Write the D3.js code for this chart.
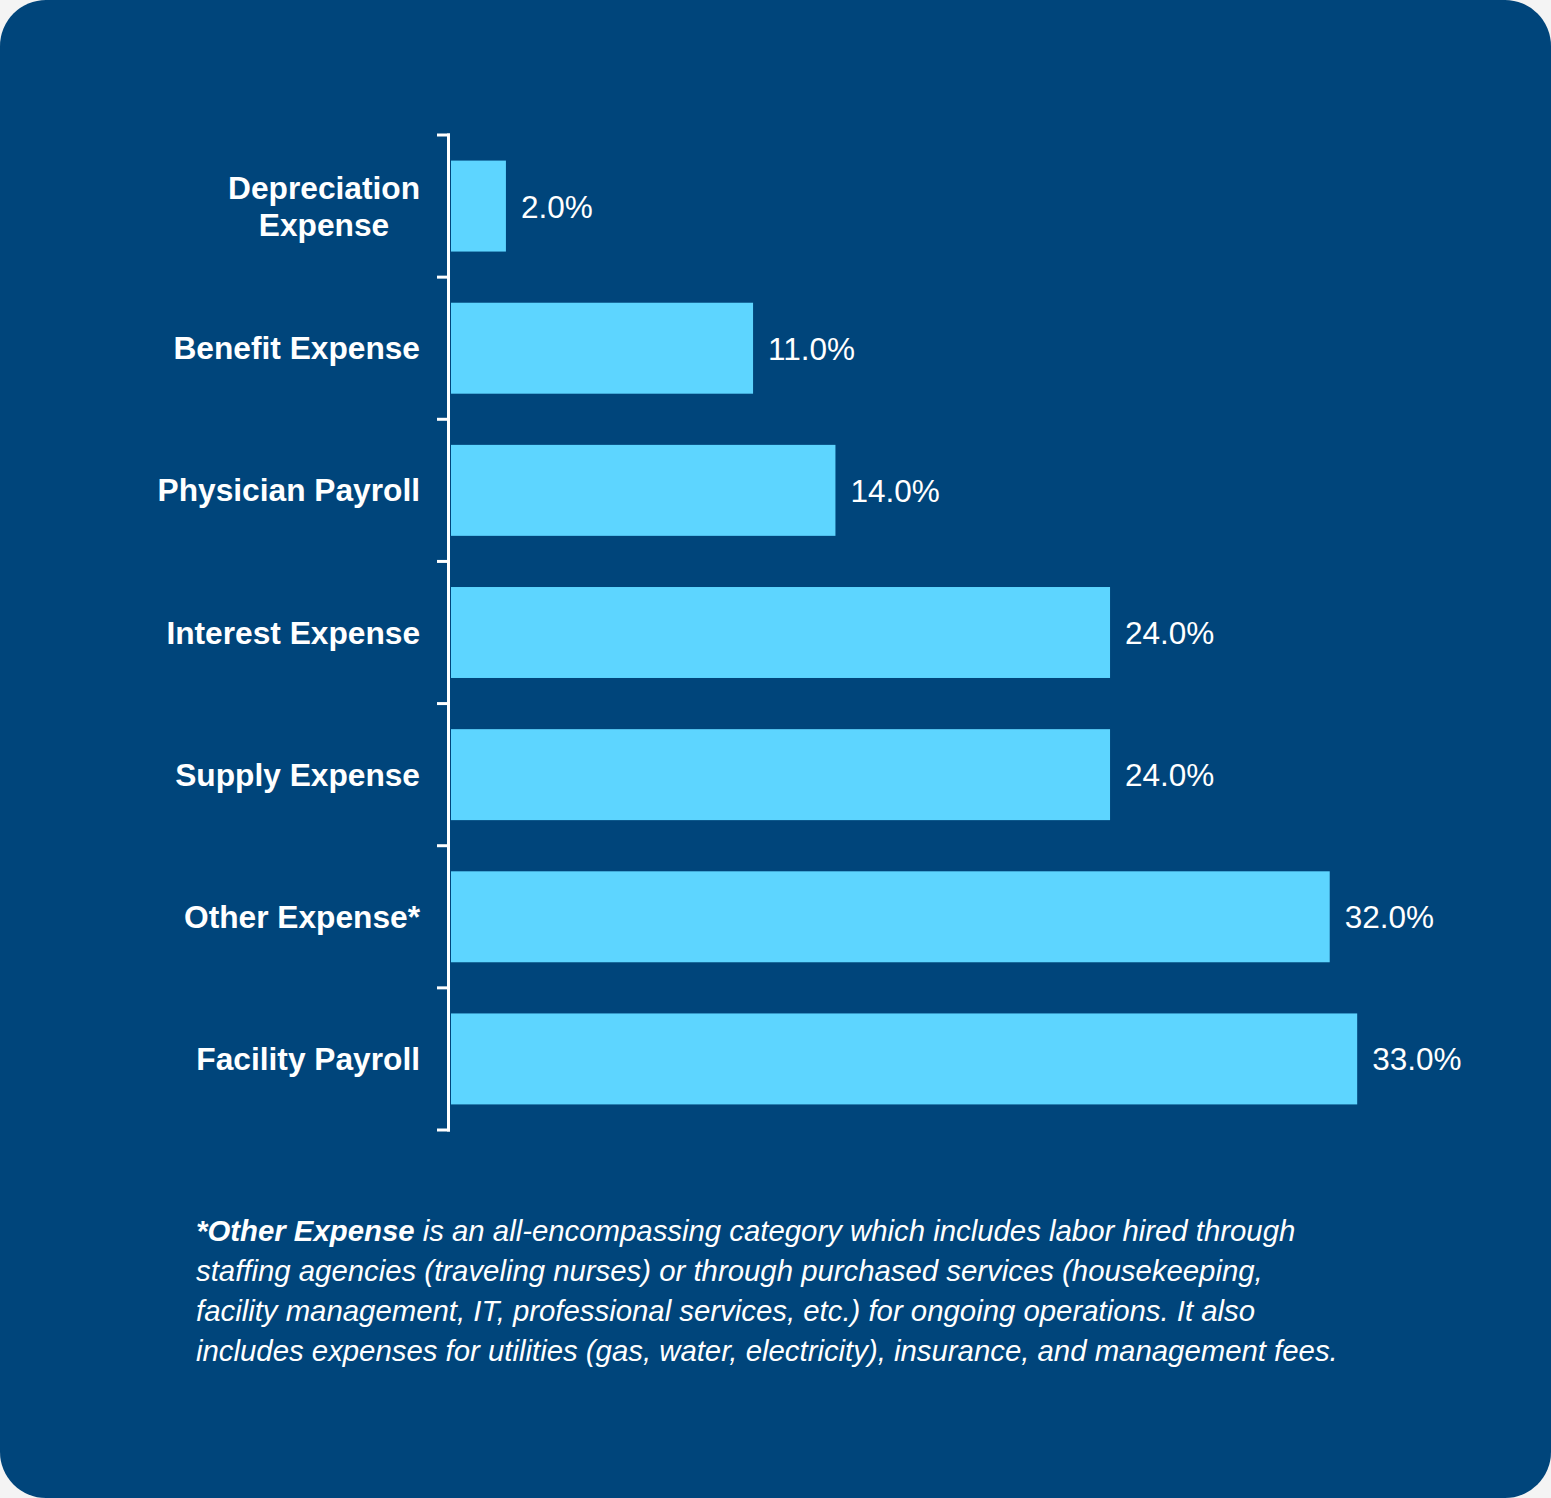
<!DOCTYPE html>
<html>
<head>
<meta charset="utf-8">
<script src="https://cdn.jsdelivr.net/npm/d3@7"></script>
<style>
  html, body { margin: 0; padding: 0; background: #f4f4f4; }
  svg text { font-family: 'Liberation Sans', 'Arial', sans-serif; }
</style>
</head>
<body>
<div class="chart"></div>
<script>
const categories = [
	["Depreciation", "Expense"],
	["Benefit Expense"],
	["Physician Payroll"],
	["Interest Expense"],
	["Supply Expense"],
	["Other Expense*"],
	["Facility Payroll"]
];
const values = [2.0, 11.0, 14.0, 24.0, 24.0, 32.0, 33.0];
const footnote = [
	[["*Other Expense", true], [" is an all-encompassing category which includes labor hired through", false]],
	[["staffing agencies (traveling nurses) or through purchased services (housekeeping,", false]],
	[["facility management, IT, professional services, etc.) for ongoing operations. It also", false]],
	[["includes expenses for utilities (gas, water, electricity), insurance, and management fees.", false]]
];

const width = 1551;
const height = 1498;
const labelRight = 420;
const font = "'Liberation Sans', Arial, sans-serif";

const svg = d3.select(".chart")
	.append("svg")
	.attr("width", width)
	.attr("height", height)
	.style("display", "block");

// card background
svg.append("rect")
	.attr("width", width)
	.attr("height", height)
	.attr("rx", 46)
	.attr("ry", 46)
	.attr("fill", "#00457b");

const keys = categories.map((c) => c.join(" "));
const data = keys.map((k, i) => ({ key: k, lines: categories[i], value: values[i] }));

const x = d3.scaleLinear()
	.domain([0, 36])
	.range([451, 451 + 36 * 27.46]);

const y = d3.scaleBand()
	.domain(keys)
	.range([135, 1130])
	.paddingInner(0.36)
	.paddingOuter(0.18);

// bars
svg.append("g")
	.selectAll("rect")
	.data(data)
	.enter()
	.append("rect")
		.attr("x", x(0))
		.attr("y", (d) => y(d.key))
		.attr("width", (d) => x(d.value) - x(0))
		.attr("height", y.bandwidth())
		.attr("fill", "#5dd5ff");

// value labels
svg.append("g")
	.selectAll("text")
	.data(data)
	.enter()
	.append("text")
		.attr("x", (d) => x(d.value) + 15)
		.attr("y", (d) => y(d.key) + y.bandwidth() / 2 + 11.5)
		.attr("fill", "#ffffff")
		.attr("font-family", font)
		.attr("font-size", 31.5)
		.text((d) => d.value.toFixed(1) + "%");

// axis line with ticks at band boundaries
const axis = svg.append("g")
	.attr("stroke", "#ffffff")
	.attr("stroke-width", 3);
axis.append("line")
	.attr("x1", 448.5).attr("x2", 448.5)
	.attr("y1", y.range()[0] - 1.5).attr("y2", y.range()[1] + 1.5);
d3.range(keys.length + 1).forEach((i) => {
	const ty = y.range()[0] + i * y.step();
	axis.append("line")
		.attr("x1", 437).attr("x2", 450)
		.attr("y1", ty).attr("y2", ty);
});

// category labels
const labels = svg.append("g")
	.selectAll("g")
	.data(data)
	.enter()
	.append("g");

labels.each(function (d) {
	const g = d3.select(this);
	const lh = 37;
	const cy = y(d.key) + y.bandwidth() / 2;
	const top = cy - (d.lines.length - 1) * lh / 2 + 11;
	const texts = d.lines.map((line, j) => g.append("text")
		.attr("y", top + j * lh)
		.attr("fill", "#ffffff")
		.attr("font-family", font)
		.attr("font-size", 31.7)
		.attr("font-weight", "bold")
		.attr("text-anchor", "middle")
		.text(line));
	const widest = d3.max(texts, (t) => t.node().getComputedTextLength());
	texts.forEach((t) => t.attr("x", labelRight - widest / 2));
});

// footnote
const note = svg.append("text")
	.attr("fill", "#ffffff")
	.attr("font-family", font)
	.attr("font-size", 29.35)
	.attr("font-style", "italic");

footnote.forEach((parts, i) => {
	parts.forEach((p, j) => {
		const span = note.append("tspan")
			.attr("font-weight", p[1] ? "bold" : "normal")
			.text(p[0]);
		if (j === 0) span.attr("x", 196).attr("y", 1241 + i * 40);
	});
});
</script>
</body>
</html>
